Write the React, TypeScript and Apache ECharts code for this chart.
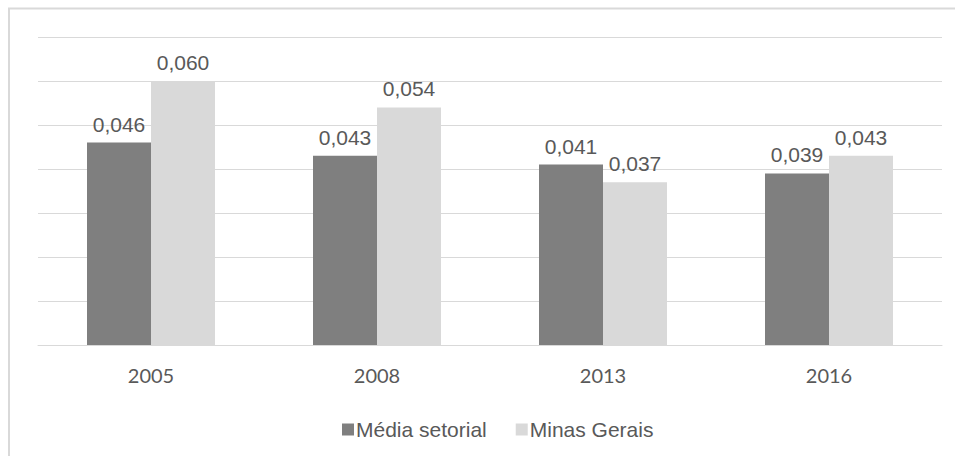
import React, { useEffect, useRef } from "react";
import * as echarts from "echarts";

const categories = ["2005", "2008", "2013", "2016"];
const mediaSetorial = [0.046, 0.043, 0.041, 0.039];
const minasGerais = [0.06, 0.054, 0.037, 0.043];
const seriesNames = ["Média setorial", "Minas Gerais"];

const fmt = (v: number) => v.toFixed(3).replace(".", ",");

export default function App() {
  const ref = useRef<HTMLDivElement>(null);
  useEffect(() => {
    if (!ref.current) return;
    const chart = echarts.init(ref.current, null, { renderer: "svg" });
    const labelStyle = {
      show: true,
      position: "top" as const,
      distance: 8,
      fontFamily: "Liberation Sans, Arial, sans-serif",
      fontSize: 21,
      color: "#595959",
      formatter: (p: any) => fmt(p.value),
    };
    chart.setOption({
      animation: false,
      backgroundColor: "#ffffff",
      graphic: [
        {
          type: "rect",
          shape: { x: 9, y: 8.5, width: 1000, height: 500 },
          style: { fill: "none", stroke: "#d9d9d9", lineWidth: 2 },
          silent: true,
        },
      ],
      grid: { left: 38, right: 13, top: 37, bottom: 111 },
      legend: {
        left: 337,
        top: 414,
        itemWidth: 12,
        itemHeight: 12,
        itemGap: 29,
        icon: "rect",
        textStyle: {
          fontFamily: "Liberation Sans, Arial, sans-serif",
          fontSize: 21,
          color: "#595959",
          padding: [0, 0, 0, -3],
        },
        data: seriesNames,
      },
      xAxis: {
        type: "category",
        data: categories,
        axisLine: { show: true, lineStyle: { color: "#d9d9d9", width: 1 } },
        axisTick: { show: false },
        axisLabel: {
          margin: 20,
          fontFamily: "Lato, sans-serif",
          fontSize: 20,
          color: "#595959",
        },
      },
      yAxis: {
        type: "value",
        min: 0,
        max: 0.07,
        interval: 0.01,
        axisLabel: { show: false },
        axisLine: { show: false },
        axisTick: { show: false },
        splitLine: { lineStyle: { color: "#d9d9d9", width: 1 } },
      },
      series: [
        {
          name: seriesNames[0],
          type: "bar",
          data: mediaSetorial,
          barWidth: 64,
          barGap: "0%",
          itemStyle: { color: "#7f7f7f" },
          label: labelStyle,
        },
        {
          name: seriesNames[1],
          type: "bar",
          data: minasGerais,
          barWidth: 64,
          barGap: "0%",
          itemStyle: { color: "#d9d9d9" },
          label: labelStyle,
        },
      ],
    });
    return () => chart.dispose();
  }, []);
  return (
    <div
      ref={ref}
      style={{ position: "fixed", left: 0, top: 0, width: 955, height: 456 }}
    />
  );
}
